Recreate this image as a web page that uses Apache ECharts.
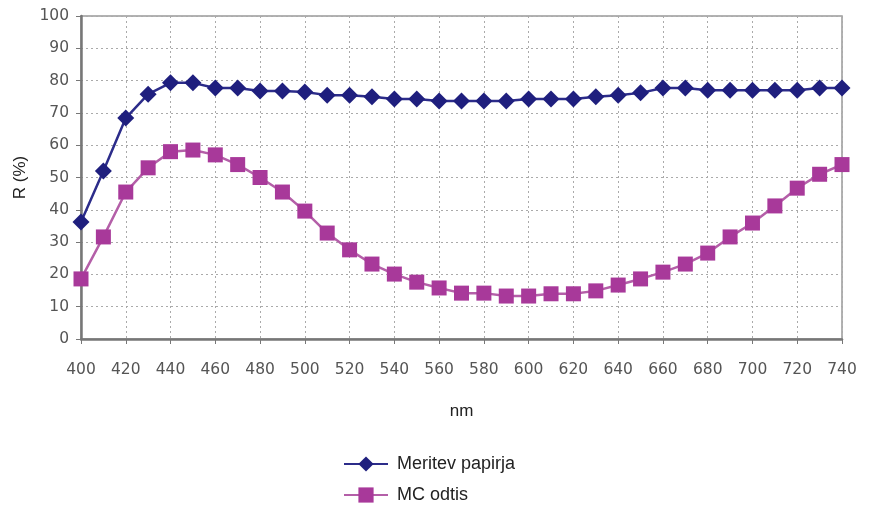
<!DOCTYPE html>
<html><head><meta charset="utf-8">
<script src="https://cdn.jsdelivr.net/npm/echarts@6/dist/echarts.min.js"></script>
<style>html,body{margin:0;padding:0;background:#fff}#c{width:871px;height:510px}</style>
</head><body><div id="c"></div>
<script>
const wavelengths = [400,410,420,430,440,450,460,470,480,490,500,510,520,530,540,550,560,570,580,590,600,610,620,630,640,650,660,670,680,690,700,710,720,730,740];
const meritevPapirja = [36.2,52,68.4,75.8,79.3,79.3,77.7,77.7,76.8,76.8,76.5,75.5,75.5,75,74.3,74.3,73.7,73.7,73.7,73.7,74.3,74.3,74.3,75,75.5,76.2,77.7,77.7,77,77,77,77,77,77.7,77.7];
const mcOdtis = [18.6,31.6,45.5,53,58,58.5,57,54,50,45.5,39.6,32.8,27.6,23.2,20.1,17.6,15.8,14.2,14.2,13.3,13.3,14,14,14.9,16.7,18.6,20.7,23.2,26.6,31.6,35.9,41.2,46.7,51,54];
const seriesNames = ['Meritev papirja','MC odtis'];
const xAxisTitle = 'nm';
const yAxisTitle = 'R (%)';

const pair = (arr) => wavelengths.map((w,i)=>[w,arr[i]]);
const font = 'Liberation Sans, Arial, sans-serif';
const tickFont = 'DejaVu Sans, Verdana, sans-serif';
const chart = echarts.init(document.getElementById('c'));
chart.setOption({
  animation:false,
  backgroundColor:'#fff',
  grid:{left:81,right:29,top:16,bottom:171,show:true,borderColor:'#999',borderWidth:1.5,backgroundColor:'transparent'},
  legend:{
    orient:'vertical', left:343, top:455, padding:0, itemGap:13, itemWidth:44, itemHeight:19,
    textStyle:{fontFamily:font,fontSize:18,color:'#222',padding:[0,0,0,4]},
    data:seriesNames
  },
  xAxis:{
    type:'value', min:400, max:740, interval:20,
    name:xAxisTitle, nameLocation:'middle', nameGap:64,
    nameTextStyle:{fontFamily:font,fontSize:17,color:'#222'},
    axisLine:{lineStyle:{color:'#777',width:2.5}},
    axisTick:{show:true,length:5,lineStyle:{color:'#777'}},
    axisLabel:{fontFamily:tickFont,fontSize:15.5,color:'#555',margin:23},
    splitLine:{show:true,lineStyle:{color:'#aaa',type:[2,3],width:1}}
  },
  yAxis:{
    type:'value', min:0, max:100, interval:10,
    name:yAxisTitle, nameLocation:'middle', nameGap:52, nameRotate:90,
    nameTextStyle:{fontFamily:font,fontSize:17,color:'#222'},
    axisLine:{show:true,lineStyle:{color:'#777',width:2.5}},
    axisTick:{show:true,length:5,lineStyle:{color:'#777'}},
    axisLabel:{fontFamily:tickFont,fontSize:15.5,color:'#555',margin:12},
    splitLine:{show:true,lineStyle:{color:'#aaa',type:[2,3],width:1}}
  },
  series:[
    {name:seriesNames[0],type:'line',data:pair(meritevPapirja),symbol:'diamond',symbolSize:17,
     itemStyle:{color:'#1f1f7e'},lineStyle:{color:'#2c2c8a',width:2.5},z:3},
    {name:seriesNames[1],type:'line',data:pair(mcOdtis),symbol:'rect',symbolSize:15,
     itemStyle:{color:'#a8399a'},lineStyle:{color:'#b45fa8',width:2.5},z:2}
  ]
});
</script></body></html>
